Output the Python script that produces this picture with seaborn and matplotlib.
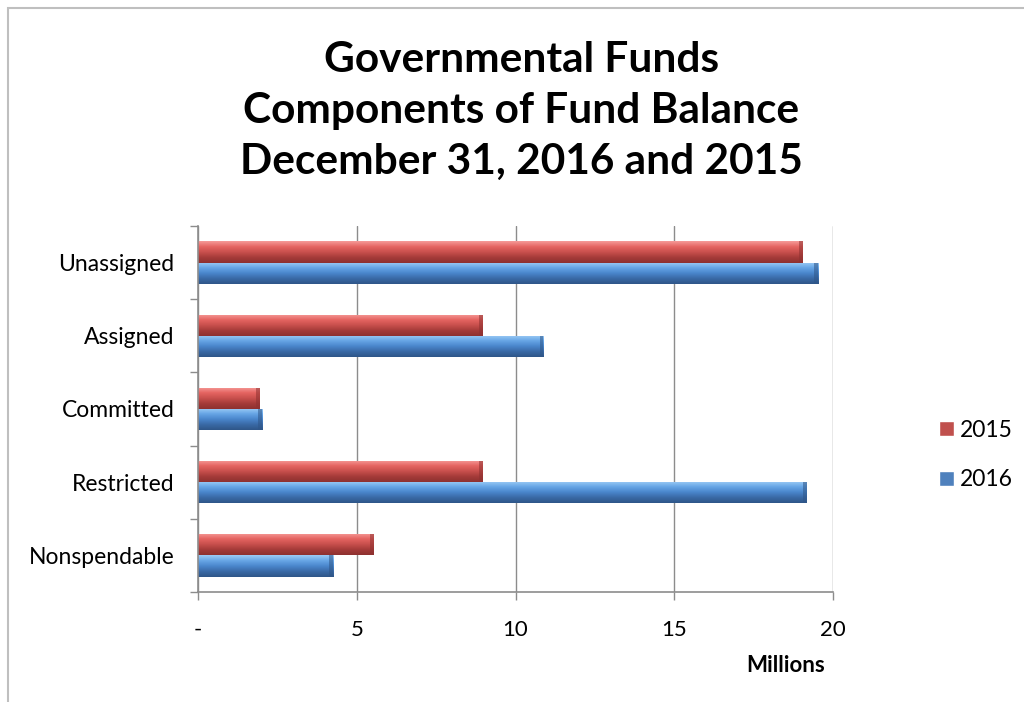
import numpy as np
import pandas as pd
import matplotlib
matplotlib.use("Agg")
import matplotlib.pyplot as plt
from matplotlib.colors import LinearSegmentedColormap
from matplotlib.patches import Rectangle
import seaborn as sns

# Fund balance components, in millions of dollars
categories = ["Unassigned", "Assigned", "Committed", "Restricted", "Nonspendable"]
values_2015 = [19.05, 8.97, 1.95, 8.97, 5.53]
values_2016 = [19.53, 10.88, 2.02, 19.18, 4.26]
years = ["2015", "2016"]
x_ticks = [0, 5, 10, 15, 20]
x_tick_labels = ["-", "5", "10", "15", "20"]

df = pd.DataFrame({
    "component": categories * 2,
    "year": [years[0]] * len(categories) + [years[1]] * len(categories),
    "amount": values_2015 + values_2016,
})

sns.set_theme(style="white")
plt.rcParams["font.family"] = ["Lato", "DejaVu Sans"]
plt.rcParams["text.color"] = "black"
plt.rcParams["xtick.color"] = "black"
plt.rcParams["ytick.color"] = "black"

base = {"2015": "#C0504D", "2016": "#4F81BD"}
shades = {
    "2015": ["#F69A98", "#E56562", "#C9504D", "#A53B39", "#8E3130"],
    "2016": ["#9CCBF5", "#67A6E6", "#4A86CC", "#3A6AA6", "#2F5688"],
}

fig = plt.figure(figsize=(10.24, 7.02), dpi=100)
ax = fig.add_axes([0.1934, 0.1567, 0.6201, 0.5214])

sns.barplot(data=df, x="amount", y="component", hue="year", order=categories,
            hue_order=years, palette=base, orient="h", width=0.58,
            dodge=True, ax=ax, legend=True, saturation=1)

# Glossy vertical gradient on each bar
for container, yr in zip(ax.containers, years):
    cmap = LinearSegmentedColormap.from_list("g" + yr, shades[yr])
    grad = np.linspace(0, 1, 64).reshape(-1, 1)
    for patch in container:
        x0, y0 = patch.get_x(), patch.get_y()
        w, h = patch.get_width(), patch.get_height()
        patch.set_edgecolor("none")
        im = ax.imshow(grad, cmap=cmap, aspect="auto",
                       extent=[x0, x0 + w, y0 + h, y0], zorder=patch.get_zorder() + 0.1,
                       interpolation="bilinear")
        im.set_clip_path(patch)
        # darker bevel at the bar end
        ax.add_patch(Rectangle((x0 + w - 0.12, y0), 0.12, h,
                               facecolor=shades[yr][-1], edgecolor="none", alpha=0.55,
                               zorder=patch.get_zorder() + 0.2))

ax.set_xlim(0, 20)
ax.set_ylim(len(categories) - 0.5, -0.5)
ax.set_xticks(x_ticks)
ax.set_xticklabels(x_tick_labels, fontsize=16)
ax.set_yticks(range(len(categories)))
ax.set_yticklabels(categories, fontsize=16.5)
ax.set_yticks(np.arange(-0.5, len(categories), 1), minor=True)
ax.tick_params(axis="y", which="major", length=0, pad=17)
ax.tick_params(axis="y", which="minor", length=6, width=1, color="#8C8C8C", left=True)
ax.tick_params(axis="x", which="major", length=6, width=1, color="#8C8C8C", bottom=True, pad=14)
ax.set_ylabel("")
ax.set_xlabel("")

ax.grid(axis="x", color="#8C8C8C", linewidth=1)
ax.set_axisbelow(True)
for side in ["top", "right"]:
    ax.spines[side].set_visible(False)
for side in ["left", "bottom"]:
    ax.spines[side].set_color("#8C8C8C")
    ax.spines[side].set_linewidth(1.2)

# Legend
handles, labels = ax.get_legend_handles_labels()
ax.legend(handles=handles, labels=labels, loc="center left", bbox_to_anchor=(1.135, 0.374),
          frameon=False, fontsize=16.5, handlelength=0.65, handleheight=0.65,
          handletextpad=0.25, labelspacing=1.25)

fig.text(0.767, 0.052, "Millions", fontsize=16, fontweight="bold", ha="center", va="center")
fig.text(0.509, 0.842, "Governmental Funds\nComponents of Fund Balance\nDecember 31, 2016 and 2015",
         fontsize=30.5, fontweight="bold", ha="center", va="center", linespacing=1.42)

# Chart frame
fig.add_artist(Rectangle((8 / 1024, -0.1), 1.2, 1 - 8 / 702 + 0.1, transform=fig.transFigure,
                         fill=False, edgecolor="#BFBFBF", linewidth=1.5))

fig.savefig("out.png", dpi=100, facecolor="white")
